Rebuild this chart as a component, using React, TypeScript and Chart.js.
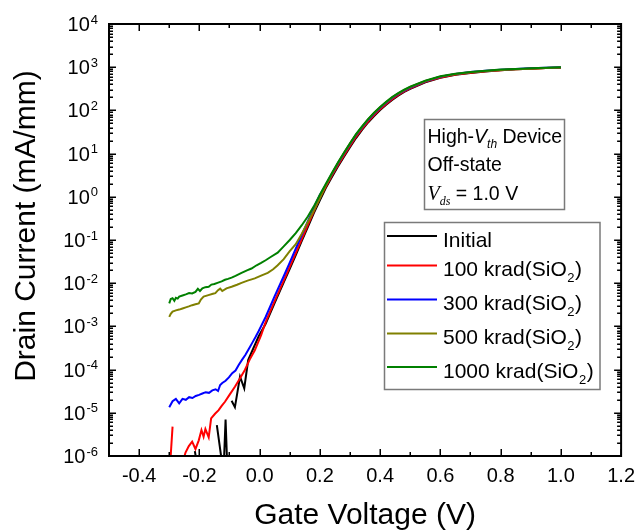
import { useEffect, useRef } from 'react';
import { Chart, registerables } from 'chart.js';

Chart.register(...registerables);

const SANS = '"Liberation Sans", Arial, Helvetica, sans-serif';
const SERIF = '"Liberation Serif", "Times New Roman", serif';

// ---------------- data (gate voltage V, drain current mA/mm) ----------------
const upperV = [0.2, 0.22, 0.24, 0.26, 0.28, 0.3, 0.32, 0.34, 0.36, 0.38, 0.4, 0.42, 0.44, 0.46, 0.48, 0.5, 0.55, 0.6, 0.65, 0.7, 0.75, 0.8, 0.85, 0.9, 0.95, 1.0];

const initialV = [-0.215, -0.205, -0.2, -0.142, -0.12, -0.113, -0.106, -0.1, -0.093, -0.082, -0.065, -0.051, -0.038, -0.02, -0.003, 0.02, 0.05, 0.08, 0.1, 0.12, 0.14, 0.16, 0.18, ...upperV];
const initialI = [1.3e-6, 5e-7, null, 5.2e-6, 4e-7, 7e-6, 3e-7, null, 1.9e-5, 1.35e-5, 6.9e-5, 3.7e-5, 1.66e-4, 3.2e-4, 5.9e-4, 1.15e-3, 3.5e-3, 1.05e-2, 2.15e-2, 4.5e-2, 0.095, 0.2, 0.42,
  0.83, 1.62, 2.88, 5.0, 8.5, 14.1, 22.9, 35.5, 52.5, 74, 102, 135, 174, 219, 269, 316, 447, 569, 668, 733, 794, 851, 891, 923, 955, 977];

const k100V = [-0.3, -0.289, -0.28, -0.262, -0.246, -0.235, -0.224, -0.213, -0.202, -0.193, -0.186, -0.18, -0.169, -0.161, -0.148, -0.136, -0.126, -0.115, -0.1, -0.082, -0.065, -0.049, -0.033, -0.016, 0.005, 0.02, 0.05, 0.08, 0.1, 0.12, 0.14, 0.16, 0.18, ...upperV];
const k100I = [3e-7, 4.8e-6, null, 5e-7, 1.2e-6, 1.7e-6, 2.15e-6, 1.45e-6, 2.3e-6, 4.0e-6, 2.8e-6, 4.2e-6, 2.7e-6, 7.4e-6, 9.5e-6, 1.15e-5, 1.45e-5, 1.8e-5, 2.6e-5, 4.0e-5, 6.3e-5, 9.8e-5, 1.7e-4, 2.8e-4, 6.3e-4, 1.25e-3, 3.9e-3, 1.15e-2, 2.4e-2, 5.0e-2, 0.105, 0.22, 0.46,
  0.95, 1.74, 3.09, 5.37, 9.1, 15.1, 24.5, 37.2, 55, 77.6, 107, 141, 182, 229, 275, 324, 457, 575, 676, 741, 804, 851, 891, 923, 955, 977];

const k300V = [-0.3, -0.289, -0.278, -0.267, -0.256, -0.245, -0.234, -0.223, -0.212, -0.201, -0.19, -0.179, -0.168, -0.157, -0.146, -0.138, -0.131, -0.124, -0.113, -0.102, -0.091, -0.08, -0.069, -0.058, -0.047, -0.036, -0.025, -0.014, -0.003, 0.02, 0.05, 0.08, 0.1, 0.12, 0.14, 0.16, 0.18, ...upperV];
const k300I = [1.35e-5, 1.85e-5, 2.1e-5, 1.65e-5, 2.1e-5, 2.0e-5, 2.3e-5, 2.2e-5, 2.45e-5, 2.6e-5, 2.8e-5, 3.0e-5, 2.9e-5, 3.3e-5, 3.5e-5, 3.2e-5, 4.4e-5, 4.9e-5, 5.5e-5, 6.6e-5, 8.3e-5, 9.5e-5, 1.3e-4, 1.7e-4, 2.2e-4, 3.0e-4, 4.1e-4, 5.6e-4, 7.8e-4, 1.65e-3, 5.0e-3, 1.45e-2, 3.0e-2, 6.3e-2, 0.13, 0.27, 0.55,
  1.1, 1.91, 3.39, 5.9, 10.0, 16.6, 26.9, 40.7, 60, 85, 115, 151, 195, 240, 288, 339, 474, 603, 700, 770, 827, 876, 908, 940, 972, 995];

const k500V = [-0.3, -0.295, -0.289, -0.278, -0.267, -0.256, -0.245, -0.235, -0.224, -0.213, -0.202, -0.195, -0.186, -0.17, -0.155, -0.147, -0.138, -0.131, -0.124, -0.11, -0.093, -0.075, -0.06, -0.04, -0.016, 0.005, 0.027, 0.045, 0.06, 0.08, 0.1, 0.12, 0.14, 0.16, 0.18, ...upperV];
const k500I = [1.66e-3, 1.95e-3, 2.2e-3, 2.35e-3, 2.45e-3, 2.6e-3, 2.75e-3, 2.9e-3, 3.1e-3, 3.25e-3, 3.4e-3, 4.2e-3, 4.9e-3, 5.3e-3, 5.7e-3, 5.9e-3, 6.9e-3, 7.5e-3, 6.6e-3, 7.6e-3, 8.3e-3, 9.2e-3, 1.02e-2, 1.15e-2, 1.29e-2, 1.5e-2, 1.74e-2, 2.1e-2, 2.6e-2, 3.6e-2, 5.5e-2, 8.0e-2, 0.14, 0.26, 0.48,
  0.92, 1.86, 3.4, 6.05, 10.3, 17.0, 27.6, 41.8, 62, 87, 118, 155, 200, 246, 296, 348, 480, 605, 694, 760, 815, 863, 894, 925, 957, 980];

const k1000V = [-0.3, -0.295, -0.289, -0.283, -0.278, -0.272, -0.267, -0.256, -0.245, -0.234, -0.224, -0.213, -0.205, -0.198, -0.19, -0.18, -0.169, -0.16, -0.15, -0.14, -0.126, -0.115, -0.105, -0.093, -0.08, -0.06, -0.04, -0.027, -0.01, 0.005, 0.02, 0.038, 0.06, 0.08, 0.1, 0.12, 0.14, 0.16, 0.18, ...upperV];
const k1000I = [3.4e-3, 4.3e-3, 4.5e-3, 3.9e-3, 4.6e-3, 4.4e-3, 4.9e-3, 5.2e-3, 5.5e-3, 5.9e-3, 5.8e-3, 6.3e-3, 7.4e-3, 6.6e-3, 7.6e-3, 8.1e-3, 8.3e-3, 9.3e-3, 9.6e-3, 1.02e-2, 1.1e-2, 1.2e-2, 1.26e-2, 1.35e-2, 1.48e-2, 1.74e-2, 2.0e-2, 2.19e-2, 2.6e-2, 2.95e-2, 3.4e-2, 4.1e-2, 5.1e-2, 7.1e-2, 0.1, 0.145, 0.22, 0.35, 0.6,
  1.12, 2.0, 3.55, 6.2, 10.5, 17.4, 28.2, 42.7, 63, 89, 120, 158, 204, 251, 302, 355, 490, 617, 708, 776, 832, 881, 912, 944, 977, 1000];

const seriesNames = ['Initial', '100 krad(SiO₂)', '300 krad(SiO₂)', '500 krad(SiO₂)', '1000 krad(SiO₂)'];
const seriesColors = ['#000000', '#ff0000', '#0000ff', '#808000', '#008000'];
const seriesV = [initialV, k100V, k300V, k500V, k1000V];
const seriesI = [initialI, k100I, k300I, k500I, k1000I];

const xTickLabels = [-0.4, -0.2, 0.0, 0.2, 0.4, 0.6, 0.8, 1.0, 1.2];
const xMinorTicks = [-0.5, -0.3, -0.1, 0.1, 0.3, 0.5, 0.7, 0.9, 1.1];
const yExponents = [-6, -5, -4, -3, -2, -1, 0, 1, 2, 3, 4];
const yMinorMultipliers = [2, 3, 4, 5, 6, 7, 8, 9];

const annotationLines = ['High-V_th Device', 'Off-state', 'V_ds = 1.0 V'];

// ---------------- layout constants ----------------
const LEGEND_BOX = { x: 384.5, y: 222.5, w: 215.5, h: 167 };
const LEGEND_LINE_Y = [236, 265.5, 299.5, 333.5, 367];
const NOTE_BOX = { x: 424.5, y: 119.5, w: 140, h: 90 };
const NOTE_BASE_Y = [142.5, 171, 199.5];

function drawSubText(ctx: CanvasRenderingContext2D, text: string, x: number, y: number, size: number) {
  // renders "…SiO₂)" with a real lowered subscript
  const parts = text.split('₂');
  ctx.font = `${size}px ${SANS}`;
  ctx.fillText(parts[0], x, y);
  let cx = x + ctx.measureText(parts[0]).width;
  if (parts.length > 1) {
    ctx.font = `${Math.round(size * 0.62)}px ${SANS}`;
    ctx.fillText('2', cx + 0.5, y + 6);
    cx += ctx.measureText('2').width + 1;
    ctx.font = `${size}px ${SANS}`;
    ctx.fillText(parts[1], cx, y);
  }
}

const originPlugin = {
  id: 'originStyle',
  afterDraw(chart: any) {
    const { ctx, chartArea: a, scales } = chart;
    const xs = scales.x;
    const ys = scales.y;
    ctx.save();
    ctx.strokeStyle = '#000';
    ctx.fillStyle = '#000';

    // frame
    ctx.lineWidth = 2;
    ctx.strokeRect(a.left, a.top, a.right - a.left, a.bottom - a.top);

    // ticks (inward, mirrored)
    ctx.lineWidth = 1.5;
    ctx.beginPath();
    const xt = (v: number, len: number) => {
      const p = Math.round(xs.getPixelForValue(v)) + 0.25;
      ctx.moveTo(p, a.bottom); ctx.lineTo(p, a.bottom - len);
      ctx.moveTo(p, a.top); ctx.lineTo(p, a.top + len);
    };
    xTickLabels.forEach((v) => xt(v, 7));
    xMinorTicks.forEach((v) => xt(v, 4));
    const yt = (v: number, len: number) => {
      const p = Math.round(ys.getPixelForValue(v)) + 0.25;
      ctx.moveTo(a.left, p); ctx.lineTo(a.left + len, p);
      ctx.moveTo(a.right, p); ctx.lineTo(a.right - len, p);
    };
    yExponents.forEach((e) => {
      yt(Math.pow(10, e), 7);
      if (e < 4) yMinorMultipliers.forEach((m) => yt(m * Math.pow(10, e), 4));
    });
    ctx.stroke();

    // y tick labels with superscript exponents
    ctx.textAlign = 'left';
    ctx.textBaseline = 'alphabetic';
    yExponents.forEach((e) => {
      const py = ys.getPixelForValue(Math.pow(10, e));
      const exp = String(e);
      ctx.font = `20px ${SANS}`;
      const w10 = ctx.measureText('10').width;
      ctx.font = `13px ${SANS}`;
      const we = ctx.measureText(exp).width;
      const x0 = 98 - we - 1 - w10;
      ctx.font = `20px ${SANS}`;
      ctx.fillText('10', x0, py + 7);
      ctx.font = `13px ${SANS}`;
      ctx.fillText(exp, x0 + w10 + 1, py - 0.5);
    });

    // y axis title
    ctx.save();
    ctx.translate(35, 226);
    ctx.rotate(-Math.PI / 2);
    ctx.font = `30px ${SANS}`;
    ctx.textAlign = 'center';
    ctx.textBaseline = 'alphabetic';
    ctx.fillText('Drain Current (mA/mm)', 0, 0);
    ctx.restore();

    // annotation box
    ctx.fillStyle = '#fff';
    ctx.fillRect(NOTE_BOX.x, NOTE_BOX.y, NOTE_BOX.w, NOTE_BOX.h);
    ctx.strokeStyle = '#7a7a7a';
    ctx.lineWidth = 1.5;
    ctx.strokeRect(NOTE_BOX.x, NOTE_BOX.y, NOTE_BOX.w, NOTE_BOX.h);
    ctx.fillStyle = '#000';
    ctx.textAlign = 'left';
    const nx = 427.5;
    annotationLines.forEach((line, i) => {
      const by = NOTE_BASE_Y[i];
      let cx = nx;
      const m = line.match(/^(.*?)V_(\w+)(.*)$/);
      if (!m) {
        ctx.font = `19.5px ${SANS}`;
        ctx.fillText(line, cx, by);
        return;
      }
      const serifV = m[1] === '';
      ctx.font = `19.5px ${SANS}`;
      ctx.fillText(m[1], cx, by);
      cx += ctx.measureText(m[1]).width;
      ctx.font = serifV ? `italic 20px ${SERIF}` : `italic 19.5px ${SANS}`;
      ctx.fillText('V', cx, by);
      cx += ctx.measureText('V').width;
      ctx.font = serifV ? `italic 12px ${SERIF}` : `italic 12px ${SANS}`;
      ctx.fillText(m[2], cx, by + 5);
      cx += ctx.measureText(m[2]).width;
      ctx.font = `19.5px ${SANS}`;
      ctx.fillText(m[3], cx, by);
    });

    // legend
    ctx.fillStyle = '#fff';
    ctx.fillRect(LEGEND_BOX.x, LEGEND_BOX.y, LEGEND_BOX.w, LEGEND_BOX.h);
    ctx.strokeStyle = '#7a7a7a';
    ctx.lineWidth = 1.5;
    ctx.strokeRect(LEGEND_BOX.x, LEGEND_BOX.y, LEGEND_BOX.w, LEGEND_BOX.h);
    seriesNames.forEach((name, i) => {
      const ly = LEGEND_LINE_Y[i];
      ctx.strokeStyle = seriesColors[i];
      ctx.lineWidth = 2;
      ctx.beginPath();
      ctx.moveTo(387, ly);
      ctx.lineTo(437, ly);
      ctx.stroke();
      ctx.fillStyle = '#000';
      drawSubText(ctx, name, 443, ly + 10.5, 21);
    });

    ctx.restore();
  },
};

export default function App() {
  const ref = useRef<HTMLCanvasElement>(null);

  useEffect(() => {
    if (!ref.current) return;
    const datasets = seriesNames.map((name, i) => ({
      label: name,
      data: seriesV[i].map((v, j) => ({ x: v, y: seriesI[i][j] })),
      borderColor: seriesColors[i],
      backgroundColor: seriesColors[i],
      borderWidth: 2,
      pointRadius: 0,
      tension: 0,
      fill: false,
      spanGaps: false,
      order: seriesNames.length - i,
    }));

    const chart = new Chart(ref.current, {
      type: 'line',
      data: { datasets },
      options: {
        responsive: false,
        animation: false,
        events: [],
        layout: { padding: { top: 24, right: 15, left: 0, bottom: 0 } },
        plugins: {
          legend: { display: false },
          tooltip: { enabled: false },
        },
        scales: {
          x: {
            type: 'linear',
            min: -0.5,
            max: 1.2,
            grid: { display: false, drawTicks: false, tickLength: 0 },
            border: { display: false },
            afterBuildTicks: (s: any) => {
              s.ticks = xTickLabels.map((v) => ({ value: v }));
            },
            afterFit: (s: any) => {
              s.height = 76;
            },
            ticks: {
              callback: (v: any) => Number(v).toFixed(1),
              font: { family: SANS, size: 20 },
              color: '#000',
              padding: 8,
              maxRotation: 0,
              autoSkip: false,
            },
            title: {
              display: true,
              text: 'Gate Voltage (V)',
              font: { family: SANS, size: 30, lineHeight: 1.1 },
              color: '#000',
              padding: { top: 0, bottom: 0 },
            },
          },
          y: {
            type: 'logarithmic',
            min: 1e-6,
            max: 1e4,
            grid: { display: false, drawTicks: false },
            border: { display: false },
            ticks: { display: false },
            afterFit: (s: any) => {
              s.width = 109;
            },
          },
        },
      } as any,
      plugins: [originPlugin],
    });
    return () => chart.destroy();
  }, []);

  return (
    <div style={{ position: 'absolute', left: 0, top: 0, width: 643, height: 532, background: '#fff' }}>
      <canvas ref={ref} width={643} height={532} style={{ display: 'block' }} />
    </div>
  );
}
